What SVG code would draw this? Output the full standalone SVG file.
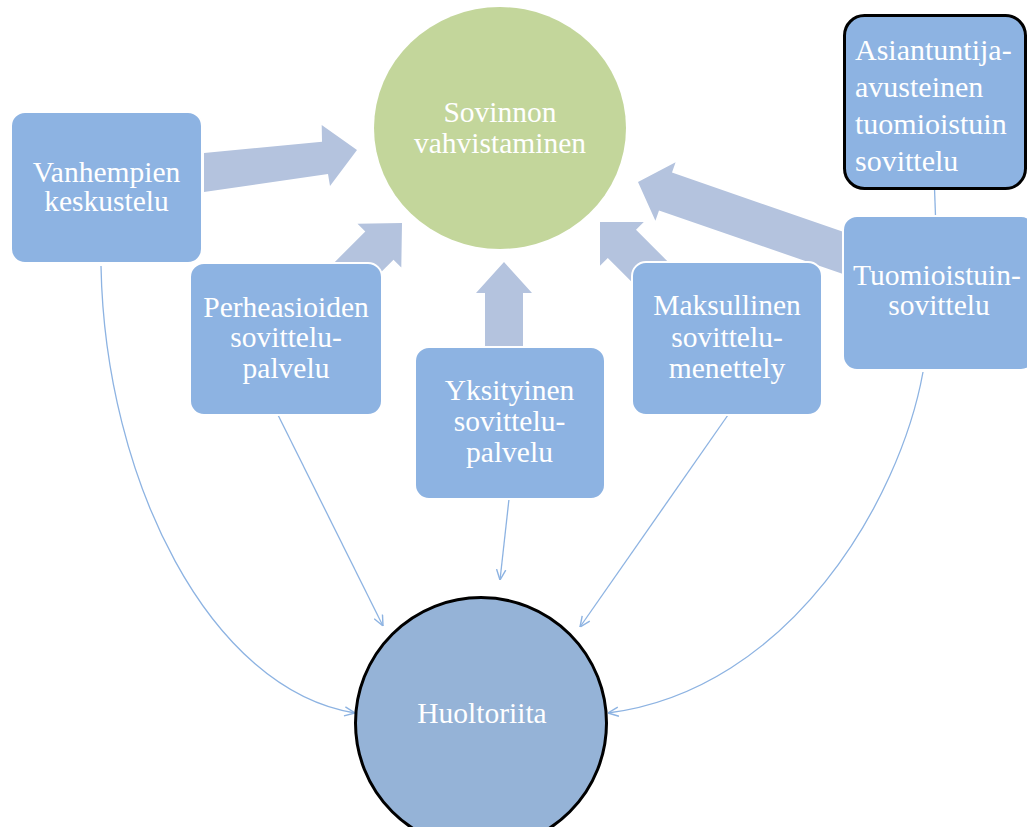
<svg xmlns="http://www.w3.org/2000/svg" width="1027" height="827" viewBox="0 0 1027 827">
  <style>
    .box { fill: #8db3e2; stroke: #ffffff; stroke-width: 2; }
    .blk { fill: #b4c3de; stroke: none; }
    .conn { fill: none; stroke: #8db3e2; stroke-width: 1.3; }
    .lbl { font-family: "Liberation Serif", "Times New Roman", serif; font-size: 29.5px; fill: #ffffff; text-anchor: middle; }
    .lbl-l { font-family: "Liberation Serif", "Times New Roman", serif; font-size: 30px; fill: #ffffff; text-anchor: start; }
  </style>
  <defs>
    <marker id="open" viewBox="0 0 10 10" refX="10" refY="5" markerWidth="11" markerHeight="11" markerUnits="userSpaceOnUse" orient="auto">
      <path d="M0.5,0.8 L10,5 L0.5,9.2" fill="none" stroke="#8db3e2" stroke-width="1.3"/>
    </marker>
  </defs>
  <rect width="1027" height="827" fill="#ffffff"/>

  <g id="block-arrows">
    <polygon class="blk" points="204,153 322,141.7 321.7,125 357,150 330,186 328,174 204,192"/>
    <polygon class="blk" points="402,223 357.5,223.7 365.3,231.5 322.9,273.9 351.1,302.1 393.5,259.7 401.3,267.5"/>
    <polygon class="blk" points="504,262 532,293 523,293 523,355 485,355 485,293 476,293"/>
    <polygon class="blk" points="600,222 643.8,222 636,229.8 689.1,282.9 660.9,311.1 607.8,258 600,265.8"/>
    <polygon class="blk" points="638,182 675.6,162.2 672,172.6 889.4,247.8 876.4,285.6 659,210.4 655.4,220.8"/>
  </g>

  <g id="connectors">
    <path class="conn" d="M101,266 C105,480 210,690 355,713" marker-end="url(#open)"/>
    <path class="conn" d="M278,415 L383,626" marker-end="url(#open)"/>
    <path class="conn" d="M509,499 L500,580" marker-end="url(#open)"/>
    <path class="conn" d="M728,415 L580,627" marker-end="url(#open)"/>
    <path class="conn" d="M923,372 C900,500 790,690 608,713" marker-end="url(#open)"/>
    <path class="conn" d="M934.5,188 L935.5,216"/>
  </g>

  <g id="sovinnon">
    <ellipse cx="500" cy="128" rx="126" ry="121" fill="#c3d69b"/>
    <text class="lbl" x="500" y="122">Sovinnon</text>
    <text class="lbl" x="500" y="153">vahvistaminen</text>
  </g>

  <g id="vanhempien">
    <rect class="box" x="11" y="112" width="191" height="151" rx="14"/>
    <text class="lbl" x="106.5" y="182">Vanhempien</text>
    <text class="lbl" x="106.5" y="211">keskustelu</text>
  </g>

  <g id="perheasioiden">
    <rect class="box" x="190" y="263" width="192" height="152" rx="14"/>
    <text class="lbl" x="286" y="317">Perheasioiden</text>
    <text class="lbl" x="286" y="347">sovittelu-</text>
    <text class="lbl" x="286" y="378">palvelu</text>
  </g>

  <g id="yksityinen">
    <rect class="box" x="415" y="347" width="190" height="152" rx="14"/>
    <text class="lbl" x="509.5" y="400">Yksityinen</text>
    <text class="lbl" x="509.5" y="430.5">sovittelu-</text>
    <text class="lbl" x="509.5" y="461.5">palvelu</text>
  </g>

  <g id="maksullinen">
    <rect class="box" x="632" y="262" width="190" height="153" rx="14"/>
    <text class="lbl" x="727" y="315">Maksullinen</text>
    <text class="lbl" x="727" y="346.5">sovittelu-</text>
    <text class="lbl" x="727" y="378">menettely</text>
  </g>

  <g id="tuomioistuin">
    <rect class="box" x="843" y="216" width="192" height="154" rx="14"/>
    <text class="lbl" x="937" y="285">Tuomioistuin-</text>
    <text class="lbl" x="939" y="315">sovittelu</text>
  </g>

  <g id="asiantuntija">
    <rect x="844.5" y="15.5" width="181" height="173" rx="20" fill="#8db3e2" stroke="#000000" stroke-width="3"/>
    <text class="lbl-l" x="855" y="60">Asiantuntija-</text>
    <text class="lbl-l" x="855" y="97">avusteinen</text>
    <text class="lbl-l" x="855" y="133.5">tuomioistuin</text>
    <text class="lbl-l" x="855" y="171">sovittelu</text>
  </g>

  <g id="huoltoriita">
    <circle cx="481" cy="723" r="125.5" fill="#95b3d7" stroke="#000000" stroke-width="3"/>
    <text class="lbl" x="482" y="723">Huoltoriita</text>
  </g>
</svg>
